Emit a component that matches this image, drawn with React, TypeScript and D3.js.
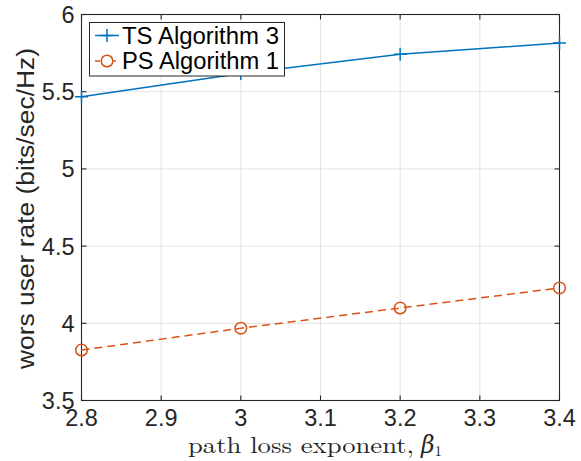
import React from "react";
import * as d3 from "d3";

// Path loss exponent values on the x axis
const beta = [2.8, 3.0, 3.2, 3.4];
// Worst user rate (bits/sec/Hz) for each scheme
const tsRates = [5.468, 5.618, 5.742, 5.815];
const psRates = [3.827, 3.968, 4.099, 4.229];

const xTicks = [2.8, 2.9, 3.0, 3.1, 3.2, 3.3, 3.4];
const yTicks = [3.5, 4, 4.5, 5, 5.5, 6];

const seriesNames = ["TS Algorithm 3", "PS Algorithm 1"];

const W = 581;
const H = 461;
const plot = { left: 81.5, right: 559.5, top: 14.5, bottom: 400.5 };

const BLUE = "#0072BD";
const ORANGE = "#D95319";
const AXIS = "#262626";
const GRID = "#e3e3e3";
const SANS = "'Liberation Sans', Arial, Helvetica, sans-serif";
const SERIF = "'Latin Modern Roman', 'CMU Serif', 'DejaVu Serif', 'Liberation Serif', serif";

export default function App() {
  const x = d3.scaleLinear().domain([2.8, 3.4]).range([plot.left, plot.right]);
  const y = d3.scaleLinear().domain([3.5, 6]).range([plot.bottom, plot.top]);

  const line = d3
    .line<number>()
    .x((_, i) => x(beta[i]))
    .y((d) => y(d));

  const tick = 5;
  const fmt = (v: number) => d3.format("~g")(v);

  const plus = (cx: number, cy: number, s = 6.5) =>
    `M${cx - s},${cy}H${cx + s}M${cx},${cy - s}V${cy + s}`;

  return (
    <svg
      width={W}
      height={H}
      style={{ position: "absolute", left: 0, top: 0, background: "#fff" }}
    >
      <rect x={0} y={0} width={W} height={H} fill="#fff" />
      {/* grid */}
      <g stroke={GRID} strokeWidth={1}>
        {xTicks.map((t) => (
          <line key={"gx" + t} x1={x(t)} x2={x(t)} y1={plot.top} y2={plot.bottom} />
        ))}
        {yTicks.map((t) => (
          <line key={"gy" + t} x1={plot.left} x2={plot.right} y1={y(t)} y2={y(t)} />
        ))}
      </g>

      {/* axes box with inward ticks on all four sides */}
      <g stroke={AXIS} strokeWidth={1.1} fill="none">
        <rect
          x={plot.left}
          y={plot.top}
          width={plot.right - plot.left}
          height={plot.bottom - plot.top}
        />
        {xTicks.map((t) => (
          <g key={"tx" + t}>
            <line x1={x(t)} x2={x(t)} y1={plot.bottom} y2={plot.bottom - tick} />
            <line x1={x(t)} x2={x(t)} y1={plot.top} y2={plot.top + tick} />
          </g>
        ))}
        {yTicks.map((t) => (
          <g key={"ty" + t}>
            <line x1={plot.left} x2={plot.left + tick} y1={y(t)} y2={y(t)} />
            <line x1={plot.right} x2={plot.right - tick} y1={y(t)} y2={y(t)} />
          </g>
        ))}
      </g>

      {/* tick labels */}
      <g fontFamily={SANS} fontSize={23.5} fill={AXIS}>
        {xTicks.map((t) => (
          <text key={"lx" + t} x={x(t)} y={425.5} textAnchor="middle">
            {fmt(t)}
          </text>
        ))}
        {yTicks.map((t) => (
          <text key={"ly" + t} x={plot.left - 7} y={y(t) + 8.5} textAnchor="end">
            {fmt(t)}
          </text>
        ))}
      </g>

      {/* axis labels */}
      <text
        transform={`translate(34,${(plot.top + plot.bottom) / 2 + 1}) rotate(-90)`}
        textAnchor="middle"
        fontFamily={SANS}
        fontSize={23.5}
        fill={AXIS}
        textLength={321}
        lengthAdjust="spacingAndGlyphs"
      >
        wors user rate (bits/sec/Hz)
      </text>
      <text x={188} y={453} fontFamily={SERIF} fontSize={23.5} fill={AXIS}>
        <tspan textLength={226} lengthAdjust="spacingAndGlyphs">
          path loss exponent,
        </tspan>
        <tspan x={421} fontStyle="italic">β</tspan>
        <tspan fontSize={15} dy={3}>1</tspan>
      </text>

      {/* series */}
      <path d={line(tsRates) ?? ""} fill="none" stroke={BLUE} strokeWidth={1.5} />
      <path
        d={line(psRates) ?? ""}
        fill="none"
        stroke={ORANGE}
        strokeWidth={1.5}
        strokeDasharray="8,5"
      />
      {tsRates.map((v, i) => (
        <path key={"m1" + i} d={plus(x(beta[i]), y(v))} stroke={BLUE} strokeWidth={1.5} />
      ))}
      {psRates.map((v, i) => (
        <circle
          key={"m2" + i}
          cx={x(beta[i])}
          cy={y(v)}
          r={5.8}
          fill="none"
          stroke={ORANGE}
          strokeWidth={1.5}
        />
      ))}

      {/* legend */}
      <g>
        <rect x={89.5} y={22.5} width={195} height={53.5} fill="#fff" stroke={AXIS} strokeWidth={1} />
        <line x1={95} x2={119} y1={35.5} y2={35.5} stroke={BLUE} strokeWidth={1.5} />
        <path d={plus(107, 35.5)} stroke={BLUE} strokeWidth={1.5} />
        <line
          x1={95}
          x2={119}
          y1={61}
          y2={61}
          stroke={ORANGE}
          strokeWidth={1.5}
          strokeDasharray="5,3"
        />
        <circle cx={107} cy={61} r={5.8} fill="#fff" stroke={ORANGE} strokeWidth={1.5} />
        <text x={122} y={43.5} fontFamily={SANS} fontSize={23.5} fill="#000" textLength={157} lengthAdjust="spacingAndGlyphs">
          {seriesNames[0]}
        </text>
        <text x={122} y={69} fontFamily={SANS} fontSize={23.5} fill="#000" textLength={157} lengthAdjust="spacingAndGlyphs">
          {seriesNames[1]}
        </text>
      </g>
    </svg>
  );
}
